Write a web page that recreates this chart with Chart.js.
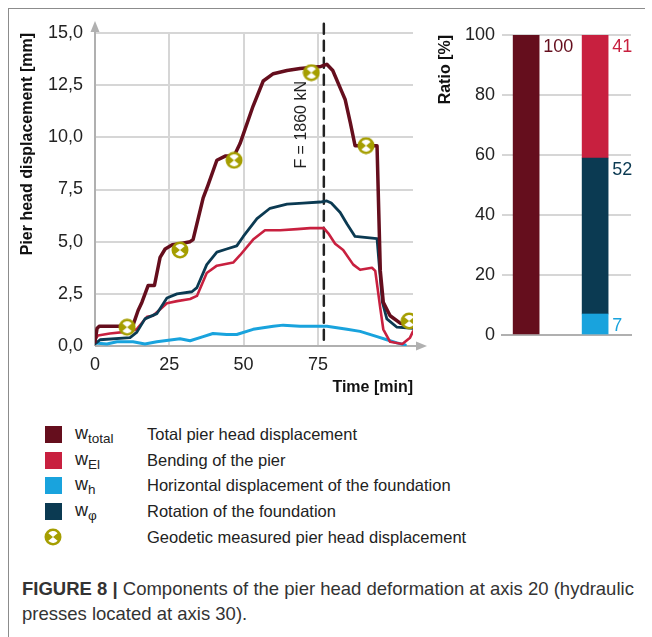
<!DOCTYPE html>
<html>
<head>
<meta charset="utf-8">
<script src="https://cdn.jsdelivr.net/npm/chart.js@4.4.1/dist/chart.umd.min.js"></script>
<style>
    body {
        margin: 0;
        background: #fff;
        width: 652px;
        height: 637px;
        position: relative;
        overflow: hidden;
        font-family: "Liberation Sans", Arial, sans-serif;
        color: #222;
    }
    .frame-top { position: absolute; left: 8px; top: 8px; width: 637px; border-top: 1.5px solid #8c8c8c; }
    .frame-left { position: absolute; left: 8px; top: 8px; height: 629px; border-left: 1.5px solid #8c8c8c; }
    #lineChart { position: absolute; left: 10px; top: 10px; }
    #barChart { position: absolute; left: 430px; top: 10px; }
    .legend { position: absolute; left: 45px; top: 422px; font-size: 16.5px; }
    .legend .row { height: 25.6px; display: flex; align-items: center; }
    .legend .sw { width: 17px; height: 17px; flex: none; }
    .legend .sym { width: 85px; padding-left: 13px; box-sizing: border-box; font-size: 18px; }
    .legend sub { font-size: 13.5px; vertical-align: -4px; }
    .caption { position: absolute; left: 22px; top: 576px; font-size: 18.5px; line-height: 25px; color: #333; white-space: nowrap; }
</style>
</head>
<body>
<div class="frame-top"></div>
<div class="frame-left"></div>
<canvas id="lineChart" width="420" height="391"></canvas>
<canvas id="barChart" width="215" height="360"></canvas>

<div class="legend" id="legend"></div>
<div class="caption"><b>FIGURE 8 |</b> Components of the pier head deformation at axis 20 (hydraulic<br>presses located at axis 30).</div>

<script>
// time [min] and displacement [mm]
const totalTime = [0, 0.7, 1.5, 10, 12.8, 14.5, 15.8, 17.9, 20, 21.9, 23.6, 26, 28.6, 32, 33, 36.4, 38, 41, 43.8, 46.8, 48.8, 53.2, 56.6, 60, 64.6, 69, 72.7, 76, 78, 80, 83, 84.2, 85.9, 87.5, 91.2, 94.9, 95.3, 96, 97, 99.3, 102.7, 105.7, 107];
const totalValues = [0.2, 0.85, 0.95, 0.95, 1.0, 1.7, 2.1, 2.9, 2.9, 4.25, 4.65, 4.85, 4.9, 5.0, 5.1, 7.1, 7.7, 8.9, 9.1, 9.1, 9.7, 11.5, 12.7, 13.05, 13.2, 13.3, 13.35, 13.4, 13.5, 13.2, 12.2, 11.8, 10.7, 9.6, 9.6, 9.6, 7.4, 3.6, 2.1, 1.45, 1.1, 0.95, 0.9];

const phiTime = [0, 1.7, 11.8, 14, 16.8, 20.8, 24.2, 27.6, 32.6, 34.3, 37.6, 41, 44.3, 47.7, 49.9, 54.5, 58.9, 64.6, 70, 75.8, 78, 79.5, 82.5, 84.8, 87.5, 94.9, 95.8, 96.7, 98.2, 101.6, 107];
const phiValues = [0.1, 0.3, 0.4, 0.65, 1.3, 1.55, 2.3, 2.5, 2.6, 2.8, 3.9, 4.5, 4.65, 4.8, 5.25, 6.1, 6.6, 6.8, 6.85, 6.9, 6.95, 6.85, 6.4, 5.85, 5.25, 5.15, 3.6, 2.1, 1.3, 0.9, 0.85];

const elTime = [0, 1, 5, 11.8, 14, 17.5, 19.5, 24.2, 27.6, 32, 34.3, 37.6, 41, 46.5, 48.8, 53.2, 57.2, 62.3, 68, 72.4, 77, 78.5, 80.8, 83.5, 86.9, 89.2, 93.2, 94.3, 96, 97, 99.3, 103.4, 106, 107];
const elValues = [0.3, 0.5, 0.6, 0.7, 0.8, 1.4, 1.45, 2.05, 2.15, 2.25, 2.4, 3.5, 3.85, 4.0, 4.35, 5.1, 5.55, 5.55, 5.6, 5.65, 5.65, 5.4, 4.9, 4.6, 3.9, 3.65, 3.75, 3.6, 1.8, 0.8, 0.2, 0.1, 0.4, 0.7];

const hTime = [0, 4, 7.4, 12.8, 16.8, 20.8, 28.6, 32, 36.4, 39.7, 44.3, 47.7, 53.2, 60, 63.3, 69, 75.8, 78, 84.8, 89.2, 94.9, 98.2, 101.6, 104.4];
const hValues = [0.15, 0.1, 0.2, 0.2, 0.1, 0.2, 0.35, 0.25, 0.45, 0.6, 0.55, 0.55, 0.8, 0.95, 1.0, 0.95, 0.95, 0.95, 0.8, 0.7, 0.45, 0.3, 0.15, 0.05];

const geodeticTime = [10.8, 28.6, 46.8, 72.8, 91.2, 105.7];
const geodeticValues = [0.9, 4.6, 8.9, 13.1, 9.6, 1.2];

const forceTime = 77;
const forceRange = [0.3, 15.5];
const forceLabel = "F = 1860 kN";

// ratio bar chart [%]
const ratioTotal = 100;
const ratioH = 7;
const ratioPhi = 52;
const ratioEl = 41;

const colors = {
    total: "#650e1d",
    el: "#c8203f",
    h: "#19a3dd",
    phi: "#0b3a52",
    geo: "#a59e00",
    grid: "#d6d6d6",
    axis: "#b0b0b0"
};

const FONT = '"Liberation Sans", Arial, sans-serif';

const toPoints = (xs, ys) => xs.map((x, i) => ({ x, y: ys[i] }));

function makeMarker() {
    const c = document.createElement("canvas");
    c.width = c.height = 18;
    const g = c.getContext("2d");
    g.fillStyle = colors.geo;
    g.beginPath();
    g.arc(9, 9, 8.5, 0, 2 * Math.PI);
    g.fill();
    g.fillStyle = "#fff";
    [[-0.78, -0.22], [0.22, 0.78]].forEach(([a, b]) => {
        g.beginPath();
        g.moveTo(9, 9);
        g.arc(9, 9, 6, a * Math.PI, b * Math.PI);
        g.closePath();
        g.fill();
    });
    return c;
}
const marker = makeMarker();

// axis lines with arrows
const axisArrows = {
    id: "axisArrows",
    beforeDatasetsDraw(chart) {
        const { ctx, chartArea: a } = chart;
        ctx.save();
        ctx.strokeStyle = colors.axis;
        ctx.fillStyle = colors.axis;
        ctx.lineWidth = 2;
        ctx.beginPath();
        ctx.moveTo(a.left, a.bottom);
        ctx.lineTo(a.left, a.top - 4);
        ctx.moveTo(a.left, a.bottom);
        ctx.lineTo(a.right + 6, a.bottom);
        ctx.stroke();
        ctx.beginPath();
        ctx.moveTo(a.left, a.top - 12);
        ctx.lineTo(a.left - 4.5, a.top - 1);
        ctx.lineTo(a.left + 4.5, a.top - 1);
        ctx.fill();
        ctx.beginPath();
        ctx.moveTo(a.right + 14, a.bottom);
        ctx.lineTo(a.right + 3, a.bottom - 4.5);
        ctx.lineTo(a.right + 3, a.bottom + 4.5);
        ctx.fill();
        ctx.restore();
    }
};

const forceText = {
    id: "forceText",
    afterDatasetsDraw(chart) {
        const { ctx, scales: { x, y } } = chart;
        ctx.save();
        ctx.translate(x.getPixelForValue(forceTime) - 22, y.getPixelForValue(10.6));
        ctx.rotate(-Math.PI / 2);
        ctx.font = "16px " + FONT;
        ctx.fillStyle = "#222";
        ctx.textAlign = "center";
        ctx.textBaseline = "middle";
        ctx.fillText(forceLabel, 0, 0);
        ctx.restore();
    }
};

const tickFont = { family: FONT, size: 18 };
const titleFont = { family: FONT, size: 16, weight: "bold" };

new Chart(document.getElementById("lineChart"), {
    type: "line",
    data: {
        datasets: [
            {
                data: toPoints(geodeticTime, geodeticValues),
                showLine: false,
                pointStyle: marker,
                pointRadius: 9,
                order: 0
            },
            {
                data: toPoints(totalTime, totalValues),
                borderColor: colors.total,
                borderWidth: 3.5,
                order: 1
            },
            {
                data: toPoints(phiTime, phiValues),
                borderColor: colors.phi,
                borderWidth: 2.8,
                order: 2
            },
            {
                data: toPoints(elTime, elValues),
                borderColor: colors.el,
                borderWidth: 2.6,
                order: 3
            },
            {
                data: toPoints(hTime, hValues),
                borderColor: colors.h,
                borderWidth: 3,
                order: 4
            },
            {
                data: toPoints([forceTime, forceTime], forceRange),
                borderColor: "#222",
                borderWidth: 2.5,
                borderDash: [10, 7],
                clip: false,
                order: 5
            }
        ]
    },
    options: {
        responsive: false,
        animation: false,
        layout: { padding: { top: 23, right: 17, left: 0, bottom: 0 } },
        elements: {
            point: { radius: 0 },
            line: { tension: 0, borderJoinStyle: "round", borderCapStyle: "round" }
        },
        scales: {
            x: {
                type: "linear",
                min: 0,
                max: 107,
                afterBuildTicks: s => { s.ticks = s.ticks.filter(t => t.value % 25 === 0); },
                afterFit: s => { s.height = 55; },
                ticks: { stepSize: 25, font: tickFont, color: "#222", padding: 8 },
                grid: { color: colors.grid, lineWidth: 2, drawTicks: false },
                border: { display: false },
                title: { display: true, text: "Time [min]", align: "end", font: titleFont, color: "#111", padding: { top: 2 } }
            },
            y: {
                min: 0,
                max: 15,
                afterFit: s => { s.width = 85; },
                ticks: {
                    stepSize: 2.5,
                    font: tickFont,
                    color: "#222",
                    padding: 12,
                    callback: v => v.toFixed(1).replace(".", ",")
                },
                grid: { color: colors.grid, lineWidth: 2, drawTicks: false },
                border: { display: false },
                title: { display: true, text: "Pier head displacement [mm]", align: "end", font: titleFont, color: "#111", padding: { top: 8, bottom: 4 } }
            }
        },
        plugins: {
            legend: { display: false },
            tooltip: { enabled: false }
        }
    },
    plugins: [axisArrows, forceText]
});

const barLabels = {
    id: "barLabels",
    afterDatasetsDraw(chart) {
        const { ctx } = chart;
        ctx.save();
        ctx.font = "18px " + FONT;
        ctx.textAlign = "left";
        ctx.textBaseline = "top";
        chart.data.datasets.forEach((ds, i) => {
            const bar = chart.getDatasetMeta(i).data[0];
            ctx.fillStyle = ds.backgroundColor;
            ctx.fillText(String(ds.data[0].y), bar.x + bar.width / 2 + 4, bar.y + 3);
        });
        ctx.restore();
    }
};

new Chart(document.getElementById("barChart"), {
    type: "bar",
    data: {
        datasets: [
            { data: [{ x: 1, y: ratioTotal }], backgroundColor: colors.total },
            { data: [{ x: 2, y: ratioH }], backgroundColor: colors.h },
            { data: [{ x: 2, y: ratioPhi }], backgroundColor: colors.phi },
            { data: [{ x: 2, y: ratioEl }], backgroundColor: colors.el }
        ]
    },
    options: {
        responsive: false,
        animation: false,
        layout: { padding: { top: 25, right: 14, left: 0, bottom: 0 } },
        datasets: { bar: { barThickness: 26 } },
        scales: {
            x: {
                type: "linear",
                stacked: true,
                offset: false,
                min: 0.65,
                max: 2.52,
                afterFit: s => { s.height = 35; },
                ticks: { display: false },
                grid: { display: false, offset: false },
                border: { display: true, color: colors.axis, width: 2 }
            },
            y: {
                stacked: true,
                min: 0,
                max: 100,
                afterFit: s => { s.width = 72; },
                ticks: { stepSize: 20, font: tickFont, color: "#222", padding: 7 },
                grid: { color: colors.grid, lineWidth: 2, drawTicks: false },
                border: { display: false },
                title: { display: true, text: "Ratio [%]", align: "end", font: titleFont, color: "#111", padding: { top: 6, bottom: 2 } }
            }
        },
        plugins: {
            legend: { display: false },
            tooltip: { enabled: false }
        }
    },
    plugins: [barLabels]
});

// legend
const legendItems = [
    { color: colors.total, sym: "w<sub>total</sub>", text: "Total pier head displacement" },
    { color: colors.el, sym: "w<sub>El</sub>", text: "Bending of the pier" },
    { color: colors.h, sym: "w<sub>h</sub>", text: "Horizontal displacement of the foundation" },
    { color: colors.phi, sym: "w<sub>φ</sub>", text: "Rotation of the foundation" },
    { marker: true, sym: "", text: "Geodetic measured pier head displacement" }
];
const legend = document.getElementById("legend");
legendItems.forEach(item => {
    const row = document.createElement("div");
    row.className = "row";
    let sw;
    if (item.marker) {
        sw = document.createElement("canvas");
        sw.width = sw.height = 18;
        sw.getContext("2d").drawImage(marker, 0, 0);
        sw.style.cssText = "width:18px;height:18px;flex:none;margin-left:-1px";
    } else {
        sw = document.createElement("div");
        sw.className = "sw";
        sw.style.background = item.color;
    }
    row.appendChild(sw);
    const sym = document.createElement("div");
    sym.className = "sym";
    sym.innerHTML = item.sym;
    row.appendChild(sym);
    const txt = document.createElement("div");
    txt.textContent = item.text;
    row.appendChild(txt);
    legend.appendChild(row);
});
</script>
</body>
</html>
